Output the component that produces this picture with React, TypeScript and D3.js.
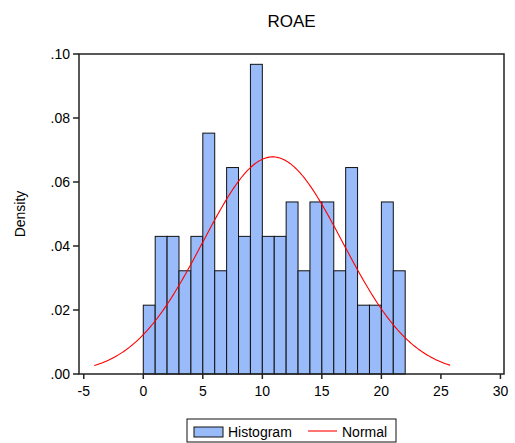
import React from 'react';
import * as d3 from 'd3';

// ROAE histogram: bin counts for bins [0,1), [1,2) ... [21,22)
const binStarts = d3.range(0, 22);
const counts = [2, 4, 4, 3, 4, 7, 3, 6, 4, 9, 4, 4, 5, 3, 5, 5, 3, 6, 2, 2, 5, 3];
const total = 93;
const binWidth = 1;

// fitted normal
const normalMean = 10.87;
const normalSd = 5.88;

const xTicks = [-5, 0, 5, 10, 15, 20, 25, 30];
const yTicks = [0, 0.02, 0.04, 0.06, 0.08, 0.1];

const width = 515;
const height = 443;
const left = 79;
const right = 504;
const top = 54;
const bottom = 374;
const font = '"Liberation Sans", Arial, sans-serif';

export default function App() {
    const x = d3.scaleLinear().domain([-5.4, 30.3]).range([left, right]);
    const y = d3.scaleLinear().domain([0, 0.1]).range([bottom, top]);

    const density = counts.map(c => c / total / binWidth);

    const pdf = (v: number) =>
        Math.exp(-0.5 * ((v - normalMean) / normalSd) ** 2) / (normalSd * Math.sqrt(2 * Math.PI));
    const xs = d3.range(normalMean - 2.55 * normalSd, normalMean + 2.55 * normalSd, 0.1);
    const line = d3.line<number>().x(v => x(v)).y(v => y(pdf(v)));

    const fmtY = (v: number) => d3.format('.2f')(v).replace(/^0/, '');

    return (
        <svg width={width} height={height} style={{ position: 'absolute', left: 0, top: 0 }} fontFamily={font}>
            <rect width={width} height={height} fill="white" />
            <text x={(left + right) / 2} y={27} textAnchor="middle" fontSize={17}>ROAE</text>

            {binStarts.map((b, i) => (
                <rect key={i}
                    x={x(b)} y={y(density[i])}
                    width={x(b + binWidth) - x(b)} height={y(0) - y(density[i])}
                    fill="#99bbfa" stroke="#111" strokeWidth={1} />
            ))}

            <path d={line(xs) || ''} fill="none" stroke="#ff0000" strokeWidth={1.1} />

            <rect x={left} y={top} width={right - left} height={bottom - top}
                fill="none" stroke="#222" strokeWidth={1.5} />

            {yTicks.map(t => (
                <g key={t}>
                    <line x1={left - 6} x2={left} y1={y(t)} y2={y(t)} stroke="#222" strokeWidth={1.5} />
                    <text x={left - 9} y={y(t) + 5} textAnchor="end" fontSize={14}>{fmtY(t)}</text>
                </g>
            ))}
            {xTicks.map(t => (
                <g key={t}>
                    <line x1={x(t)} x2={x(t)} y1={bottom} y2={bottom + 5} stroke="#222" strokeWidth={1.5} />
                    <text x={x(t)} y={396} textAnchor="middle" fontSize={14}>{t}</text>
                </g>
            ))}

            <text transform={`translate(25, ${(top + bottom) / 2}) rotate(-90)`} textAnchor="middle" fontSize={14}>Density</text>

            <g>
                <rect x={187} y={419} width={209} height={23} fill="white" stroke="#111" strokeWidth={1} />
                <rect x={194} y={427} width={29} height={10} fill="#99bbfa" stroke="#111" strokeWidth={1} />
                <text x={228} y={437} fontSize={14}>Histogram</text>
                <line x1={308} x2={337} y1={431} y2={431} stroke="#ff0000" strokeWidth={1.1} />
                <text x={342} y={437} fontSize={14}>Normal</text>
            </g>
        </svg>
    );
}
